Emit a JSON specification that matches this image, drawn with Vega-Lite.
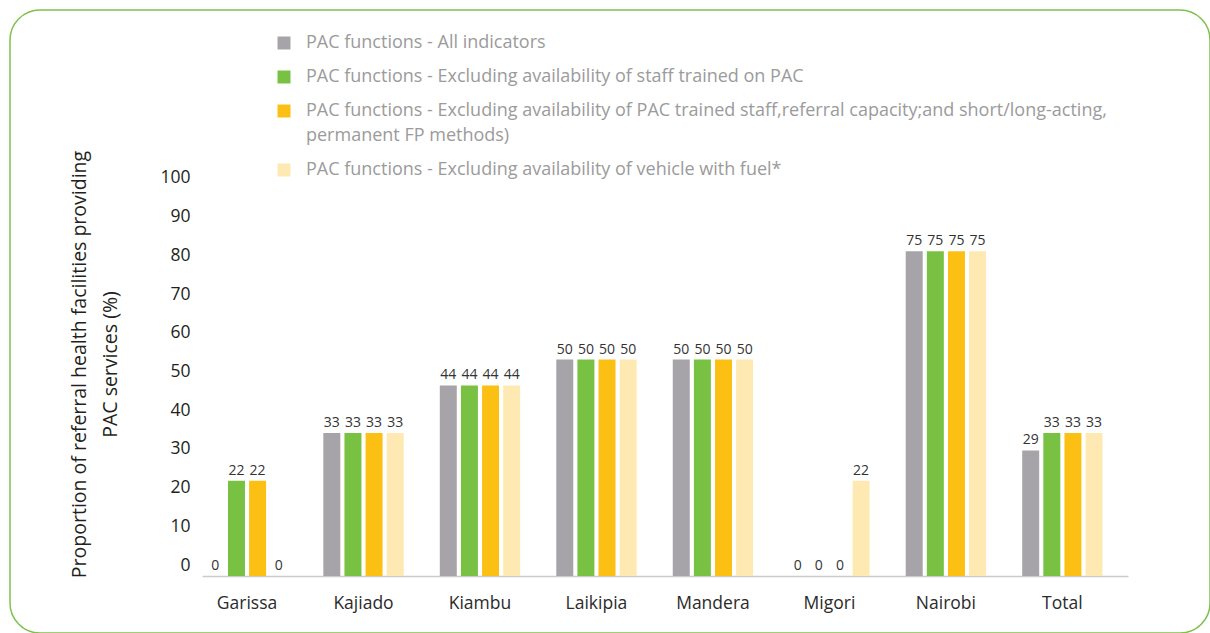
{
  "$schema": "https://vega.github.io/schema/vega-lite/v6.json",
  "width": 1200,
  "height": 623,
  "autosize": {"type": "none"},
  "padding": {"left": 10, "top": 10, "right": 0, "bottom": 0},
  "background": "white",
  "config": {
    "view": {"stroke": "#7dc24b", "strokeWidth": 1.5, "cornerRadius": 30},
    "font": "Open Sans",
    "style": {"guide-label": {"lineHeight": 25}}
  },
  "data": {
    "values": [
      {"region": "Garissa", "indicator": "PAC functions - All indicators", "value": 0},
      {"region": "Garissa", "indicator": "PAC functions - Excluding availability of staff trained on PAC", "value": 22},
      {"region": "Garissa", "indicator": "PAC functions - Excluding availability of PAC trained staff,referral capacity;and short/long-acting, permanent FP methods)", "value": 22},
      {"region": "Garissa", "indicator": "PAC functions - Excluding availability of vehicle with fuel*", "value": 0},
      {"region": "Kajiado", "indicator": "PAC functions - All indicators", "value": 33},
      {"region": "Kajiado", "indicator": "PAC functions - Excluding availability of staff trained on PAC", "value": 33},
      {"region": "Kajiado", "indicator": "PAC functions - Excluding availability of PAC trained staff,referral capacity;and short/long-acting, permanent FP methods)", "value": 33},
      {"region": "Kajiado", "indicator": "PAC functions - Excluding availability of vehicle with fuel*", "value": 33},
      {"region": "Kiambu", "indicator": "PAC functions - All indicators", "value": 44},
      {"region": "Kiambu", "indicator": "PAC functions - Excluding availability of staff trained on PAC", "value": 44},
      {"region": "Kiambu", "indicator": "PAC functions - Excluding availability of PAC trained staff,referral capacity;and short/long-acting, permanent FP methods)", "value": 44},
      {"region": "Kiambu", "indicator": "PAC functions - Excluding availability of vehicle with fuel*", "value": 44},
      {"region": "Laikipia", "indicator": "PAC functions - All indicators", "value": 50},
      {"region": "Laikipia", "indicator": "PAC functions - Excluding availability of staff trained on PAC", "value": 50},
      {"region": "Laikipia", "indicator": "PAC functions - Excluding availability of PAC trained staff,referral capacity;and short/long-acting, permanent FP methods)", "value": 50},
      {"region": "Laikipia", "indicator": "PAC functions - Excluding availability of vehicle with fuel*", "value": 50},
      {"region": "Mandera", "indicator": "PAC functions - All indicators", "value": 50},
      {"region": "Mandera", "indicator": "PAC functions - Excluding availability of staff trained on PAC", "value": 50},
      {"region": "Mandera", "indicator": "PAC functions - Excluding availability of PAC trained staff,referral capacity;and short/long-acting, permanent FP methods)", "value": 50},
      {"region": "Mandera", "indicator": "PAC functions - Excluding availability of vehicle with fuel*", "value": 50},
      {"region": "Migori", "indicator": "PAC functions - All indicators", "value": 0},
      {"region": "Migori", "indicator": "PAC functions - Excluding availability of staff trained on PAC", "value": 0},
      {"region": "Migori", "indicator": "PAC functions - Excluding availability of PAC trained staff,referral capacity;and short/long-acting, permanent FP methods)", "value": 0},
      {"region": "Migori", "indicator": "PAC functions - Excluding availability of vehicle with fuel*", "value": 22},
      {"region": "Nairobi", "indicator": "PAC functions - All indicators", "value": 75},
      {"region": "Nairobi", "indicator": "PAC functions - Excluding availability of staff trained on PAC", "value": 75},
      {"region": "Nairobi", "indicator": "PAC functions - Excluding availability of PAC trained staff,referral capacity;and short/long-acting, permanent FP methods)", "value": 75},
      {"region": "Nairobi", "indicator": "PAC functions - Excluding availability of vehicle with fuel*", "value": 75},
      {"region": "Total", "indicator": "PAC functions - All indicators", "value": 29},
      {"region": "Total", "indicator": "PAC functions - Excluding availability of staff trained on PAC", "value": 33},
      {"region": "Total", "indicator": "PAC functions - Excluding availability of PAC trained staff,referral capacity;and short/long-acting, permanent FP methods)", "value": 33},
      {"region": "Total", "indicator": "PAC functions - Excluding availability of vehicle with fuel*", "value": 33}
    ]
  },
  "encoding": {
    "x": {
      "field": "region",
      "type": "nominal",
      "sort": ["Garissa", "Kajiado", "Kiambu", "Laikipia", "Mandera", "Migori", "Nairobi", "Total"],
      "scale": {"range": [192, 1118], "paddingInner": 0.31, "paddingOuter": 0.13, "align": 0.16},
      "axis": {
        "title": null,
        "domainColor": "#cccccc",
        "domainWidth": 1.5,
        "ticks": false,
        "grid": false,
        "labelAngle": 0,
        "labelFontSize": 17.5,
        "labelColor": "#2b2b2b",
        "labelPadding": 18,
        "offset": -57
      }
    },
    "xOffset": {
      "field": "indicator",
      "type": "nominal",
      "sort": [
        "PAC functions - All indicators",
        "PAC functions - Excluding availability of staff trained on PAC",
        "PAC functions - Excluding availability of PAC trained staff,referral capacity;and short/long-acting, permanent FP methods)",
        "PAC functions - Excluding availability of vehicle with fuel*"
      ],
      "scale": {"paddingInner": 0.196, "paddingOuter": 0}
    },
    "y": {
      "field": "value",
      "type": "quantitative",
      "scale": {"domain": [0, 100], "range": [566, 133], "nice": false, "zero": true},
      "axis": {
        "values": [2.54, 11.48, 20.42, 29.36, 38.3, 47.24, 56.18, 65.12, 74.06, 83.0, 91.94],
        "labelExpr": "format(round((datum.value - 2.54) / 0.894), 'd')",
        "domain": false,
        "ticks": false,
        "grid": false,
        "labelFontSize": 17.5,
        "labelColor": "#231f20",
        "labelPadding": 0,
        "offset": -180,
        "title": ["Proportion of referral health facilities providing", "PAC services (%)"],
        "titleFontSize": 19.5,
        "titleFontWeight": "normal",
        "titleColor": "#231f20",
        "titleAngle": -90,
        "titleAlign": "center",
        "titleBaseline": "top",
        "titleLineHeight": 31,
        "titleX": -120,
        "titleY": 354
      }
    }
  },
  "layer": [
    {
      "mark": {"type": "bar"},
      "encoding": {
        "color": {
          "field": "indicator",
          "type": "nominal",
          "scale": {
            "domain": [
              "PAC functions - All indicators",
              "PAC functions - Excluding availability of staff trained on PAC",
              "PAC functions - Excluding availability of PAC trained staff,referral capacity;and short/long-acting, permanent FP methods)",
              "PAC functions - Excluding availability of vehicle with fuel*"
            ],
            "range": ["#a6a4a8", "#79c143", "#fcc015", "#fde9b1"]
          },
          "legend": {
            "orient": "none",
            "legendX": 265,
            "legendY": 24,
            "title": null,
            "direction": "vertical",
            "symbolType": "square",
            "symbolSize": 169,
            "symbolStrokeWidth": 0,
            "symbolOpacity": 1,
            "labelFontSize": 18,
            "labelColor": "#9b9b9b",
            "labelOffset": 13,
            "rowPadding": 16,
            "labelLimit": 1000,
            "padding": 0,
            "labelExpr": "datum.label == 'PAC functions - Excluding availability of PAC trained staff,referral capacity;and short/long-acting, permanent FP methods)' ? ['PAC functions - Excluding availability of PAC trained staff,referral capacity;and short/long-acting,', 'permanent FP methods)'] : datum.label"
          }
        }
      }
    },
    {
      "mark": {"type": "text", "baseline": "bottom", "dy": -3, "fontSize": 14, "color": "#333333"},
      "encoding": {
        "text": {"field": "value", "type": "quantitative"}
      }
    }
  ]
}
